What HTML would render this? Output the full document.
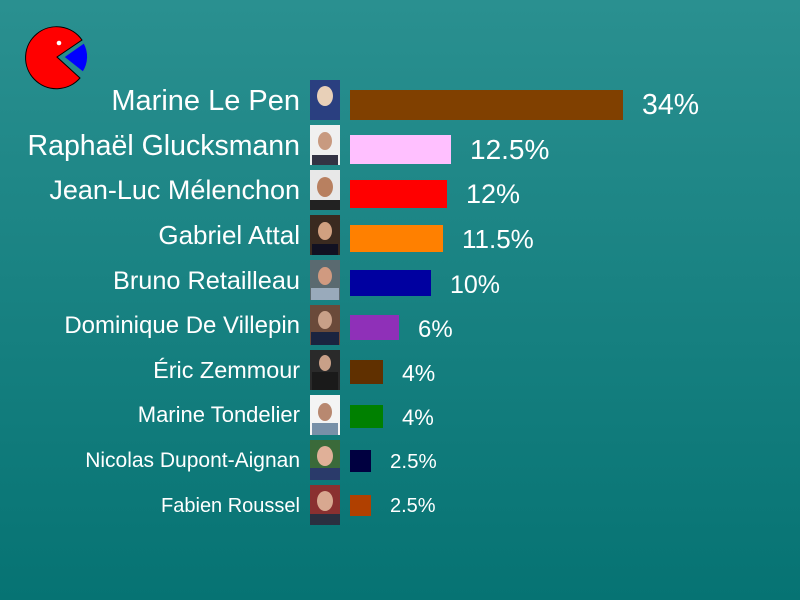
<!DOCTYPE html>
<html><head><meta charset="utf-8"><style>
html,body{margin:0;padding:0;}
body{width:800px;height:600px;overflow:hidden;background:#067373;}
svg{display:block;}
</style></head><body>
<svg width="800" height="600" xmlns="http://www.w3.org/2000/svg" font-family="Liberation Sans, sans-serif" fill="#fff">
<defs>
<linearGradient id="bg" x1="0" y1="0" x2="0" y2="1"><stop offset="0" stop-color="#2a9090"/><stop offset="1" stop-color="#067373"/></linearGradient>
</defs>
<rect width="800" height="600" fill="url(#bg)"/>
<!-- pie -->
<path d="M57,57 L82,40 A31,31 0 1 0 80,78 Z" fill="#f00" stroke="#000" stroke-width="1"/>
<path d="M64,57 L84,43 A28,28 0 0 1 83,72 Z" fill="#00f" stroke="#2a8a8a" stroke-width="1"/>
<circle cx="59" cy="43" r="2.3" fill="#fff"/>
<g text-anchor="end">
<text x="300" y="110" font-size="29">Marine Le Pen</text>
<text x="300" y="155" font-size="28.5">Raphaël Glucksmann</text>
<text x="300" y="199" font-size="27">Jean-Luc Mélenchon</text>
<text x="300" y="244" font-size="26">Gabriel Attal</text>
<text x="300" y="289" font-size="25.3">Bruno Retailleau</text>
<text x="300" y="333" font-size="24">Dominique De Villepin</text>
<text x="300" y="378" font-size="23.4">Éric Zemmour</text>
<text x="300" y="422" font-size="22">Marine Tondelier</text>
<text x="300" y="467" font-size="21">Nicolas Dupont-Aignan</text>
<text x="300" y="512" font-size="20">Fabien Roussel</text>
</g>
<!-- photos -->
<g>
<rect x="310" y="80" width="30" height="40" fill="#2a3f80"/><ellipse cx="325" cy="96" rx="8" ry="10" fill="#e8d0b8"/>
<rect x="310" y="125" width="30" height="40" fill="#f0f0f0"/><ellipse cx="325" cy="141" rx="7" ry="9" fill="#c89a80"/><rect x="312" y="155" width="26" height="10" fill="#334"/>
<rect x="310" y="170" width="30" height="40" fill="#e8e8e8"/><ellipse cx="325" cy="187" rx="8" ry="10" fill="#b88060"/><rect x="310" y="200" width="30" height="10" fill="#222"/>
<rect x="310" y="215" width="30" height="40" fill="#3a2a20"/><ellipse cx="325" cy="231" rx="7" ry="9" fill="#d0a080"/><rect x="312" y="244" width="26" height="11" fill="#112"/>
<rect x="310" y="260" width="30" height="40" fill="#5a6a70"/><ellipse cx="325" cy="276" rx="7" ry="9" fill="#d09a80"/><rect x="311" y="288" width="28" height="12" fill="#9ab"/>
<rect x="310" y="305" width="30" height="40" fill="#6a4a3a"/><ellipse cx="325" cy="320" rx="7" ry="9" fill="#c8a088"/><rect x="311" y="332" width="28" height="13" fill="#1a2440"/>
<rect x="310" y="350" width="30" height="40" fill="#2a2a2a"/><ellipse cx="325" cy="363" rx="6" ry="8" fill="#c8a088"/><rect x="312" y="372" width="26" height="18" fill="#1a1a1a"/>
<rect x="310" y="395" width="30" height="40" fill="#f4f4f4"/><ellipse cx="325" cy="412" rx="7" ry="9" fill="#b88870"/><rect x="312" y="423" width="26" height="12" fill="#7890a8"/>
<rect x="310" y="440" width="30" height="40" fill="#3a6a3a"/><ellipse cx="325" cy="456" rx="8" ry="10" fill="#e0b098"/><rect x="310" y="468" width="30" height="12" fill="#2a3a6a"/>
<rect x="310" y="485" width="30" height="40" fill="#8a3030"/><ellipse cx="325" cy="501" rx="8" ry="10" fill="#d8a890"/><rect x="310" y="514" width="30" height="11" fill="#2a3040"/>
</g>
<!-- bars -->
<rect x="350" y="90" width="273" height="30" fill="#804000"/>
<rect x="350" y="135" width="101" height="29" fill="#ffc0ff"/>
<rect x="350" y="180" width="97" height="28" fill="#ff0000"/>
<rect x="350" y="225" width="93" height="27" fill="#ff8000"/>
<rect x="350" y="270" width="81" height="26" fill="#0000a0"/>
<rect x="350" y="315" width="49" height="25" fill="#8f30b8"/>
<rect x="350" y="360" width="33" height="24" fill="#603000"/>
<rect x="350" y="405" width="33" height="23" fill="#008000"/>
<rect x="350" y="450" width="21" height="22" fill="#000040"/>
<rect x="350" y="495" width="21" height="21" fill="#b04000"/>
<g>
<text x="642" y="114" font-size="28.5">34%</text>
<text x="470" y="159" font-size="28">12.5%</text>
<text x="466" y="203" font-size="27">12%</text>
<text x="462" y="248" font-size="26">11.5%</text>
<text x="450" y="293" font-size="25">10%</text>
<text x="418" y="337" font-size="24">6%</text>
<text x="402" y="381" font-size="23">4%</text>
<text x="402" y="425" font-size="22">4%</text>
<text x="390" y="468" font-size="20.5">2.5%</text>
<text x="390" y="512" font-size="20">2.5%</text>
</g>
</svg>
</body></html>
